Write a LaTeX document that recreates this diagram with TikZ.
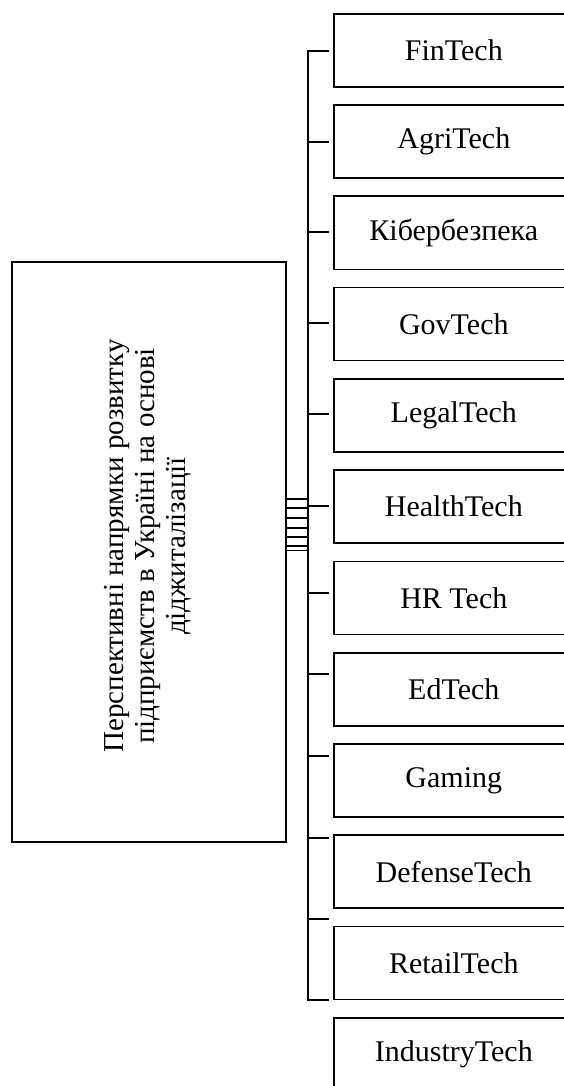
\documentclass[tikz,border=0pt]{standalone}
\usepackage{fontspec}
\setmainfont{Liberation Serif}
\begin{document}
\begin{tikzpicture}[x=1pt,y=-1pt,
  techbox/.style={draw, line width=1.6pt, minimum width=240pt, minimum height=73pt, anchor=north west, inner sep=0pt, font=\fontsize{30}{33}\selectfont},
  mainbox/.style={draw, line width=2pt, minimum width=274pt, minimum height=580pt, inner sep=0pt},
  bus/.style={line width=2.2pt},
  tick/.style={line width=1.8pt},
  rung/.style={line width=1.7pt}]
\useasboundingbox (0,0) rectangle (564,1086);
\clip (0,0) rectangle (564,1086);
% main box
\node[mainbox] (main) at (149,552) {};
\node[rotate=90, align=center, font=\fontsize{29}{31}\selectfont] (maintext) at (148,546)
  {Перспективні напрямки розвитку\\підприємств в Україні на основі\\діджиталізації};
% right boxes
\node[techbox] (b1) at (333,13) {FinTech};
\node[techbox] (b2) at (333,104.3) {AgriTech};
\node[techbox] (b3) at (333,195.5) {Кібербезпека};
\node[techbox] (b4) at (333,286.8) {GovTech};
\node[techbox] (b5) at (333,378.1) {LegalTech};
\node[techbox] (b6) at (333,469.4) {HealthTech};
\node[techbox] (b7) at (333,560.6) {HR Tech};
\node[techbox] (b8) at (333,651.9) {EdTech};
\node[techbox] (b9) at (333,743.2) {Gaming};
\node[techbox] (b10) at (333,834.4) {DefenseTech};
\node[techbox] (b11) at (333,925.7) {RetailTech};
\node[techbox] (b12) at (333,1017) {IndustryTech};
% bus coordinates
\coordinate (top) at (308,50.7);
\coordinate (bot) at (308,1000);
\draw[bus] (329,50.7) -- (top) -- (bot) -- (329,1000);
% ticks
\foreach \y [count=\i] in {141.7,232.3,322.7,414.3,505.7,592.7,674.3,755.7,837.7,919}{
  \coordinate (t\i) at (308,\y);
  \draw[tick] (t\i) -- ++(21,0);
}
% ladder between main box and bus
\foreach \y in {499,508.3,518.3,528.3,537.3,546} {
  \draw[rung] (main.east |- 0,\y) -- (308,\y);
}
\draw[rung] (main.east |- 0,550.5) -- (309,550.5);
\end{tikzpicture}
\end{document}
